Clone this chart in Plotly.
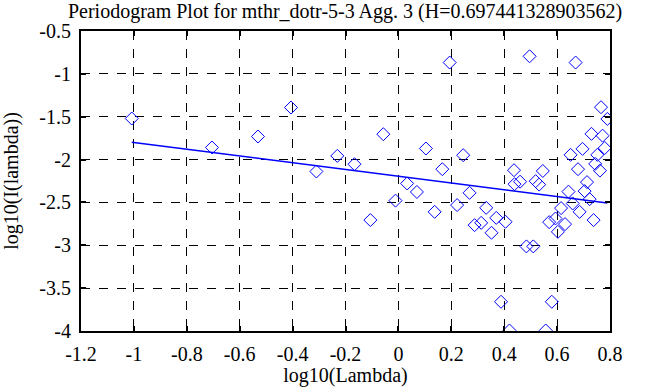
import plotly.graph_objects as go

title_text = "Periodogram Plot for mthr_dotr-5-3 Agg. 3 (H=0.697441328903562)"

log_lambda = [
    -1.008, -0.705, -0.531, -0.406, -0.310, -0.231, -0.166, -0.057, 0.104, 0.194,
    0.166, 0.245, 0.496, 0.670, 0.766, 0.790, 0.730, 0.772, 0.696, 0.651,
    0.780, 0.752, 0.744, 0.679, 0.762, 0.437, 0.546, 0.033, 0.070, -0.011,
    -0.106, 0.137, 0.222, 0.269, 0.332, 0.370, 0.288, 0.313, 0.352, 0.405,
    0.439, 0.460, 0.519, 0.532, 0.484, 0.510, 0.388, 0.580, 0.420, 0.557,
    0.643, 0.713, 0.704, 0.723, 0.615, 0.659, 0.685, 0.570, 0.594, 0.630,
    0.603, 0.738,
]
log_I = [
    -1.521, -1.859, -1.731, -1.393, -2.139, -1.957, -2.054, -1.704, -1.871, -0.868,
    -2.112, -1.949, -0.795, -0.868, -1.389, -1.526, -1.700, -1.721, -1.875, -1.945,
    -1.865, -1.945, -2.050, -2.112, -2.129, -2.124, -2.133, -2.279, -2.378, -2.479,
    -2.706, -2.610, -2.531, -2.388, -2.563, -2.680, -2.765, -2.738, -2.854, -2.726,
    -2.287, -2.258, -2.252, -2.292, -3.013, -3.013, -3.659, -3.659, -3.994, -3.994,
    -2.374, -2.263, -2.368, -2.462, -2.566, -2.512, -2.610, -2.730, -2.687, -2.753,
    -2.843, -2.706,
]

fit_x = [-1.008, 0.790]
fit_y = [-1.797, -2.507]

x_ticks = [-1.2, -1.0, -0.8, -0.6, -0.4, -0.2, 0.0, 0.2, 0.4, 0.6, 0.8]
x_tick_labels = ["-1.2", "-1", "-0.8", "-0.6", "-0.4", "-0.2", "0", "0.2", "0.4", "0.6", "0.8"]
y_ticks = [-4.0, -3.5, -3.0, -2.5, -2.0, -1.5, -1.0, -0.5]
y_tick_labels = ["-4", "-3.5", "-3", "-2.5", "-2", "-1.5", "-1", "-0.5"]

FONT = "'Liberation Serif', 'Times New Roman', Times, serif"
FS = 20

fig = go.Figure()
fig.add_trace(go.Scatter(
    x=log_lambda, y=log_I, mode="markers",
    marker=dict(symbol="diamond-open", size=10, color="#0000ff", line=dict(width=1, color="#0000ff")),
    showlegend=False, hoverinfo="x+y",
))
fig.add_trace(go.Scatter(
    x=fit_x, y=fit_y, mode="lines",
    line=dict(color="#0000ff", width=1.5),
    showlegend=False,
))

axis_common = dict(
    showline=True, linecolor="black", linewidth=2, mirror="ticks",
    ticks="inside", ticklen=5, tickwidth=2, tickcolor="black",
    showgrid=True, gridcolor="black", gridwidth=1, griddash="dash",
    zeroline=False, automargin=False,
    tickfont=dict(family=FONT, size=FS, color="black"),
)

fig.update_layout(
    width=668, height=387,
    margin=dict(l=81, r=58, t=31, b=56),
    paper_bgcolor="white", plot_bgcolor="white",
    font=dict(family=FONT, color="black"),
    title=dict(text=title_text, x=0.5165, xanchor="center", xref="container",
               y=1 - 11 / 387, yanchor="middle", yref="container",
               font=dict(family=FONT, size=FS, color="black")),
    xaxis=dict(range=[-1.2, 0.8], tickvals=x_ticks, ticktext=x_tick_labels,
               ticklabelstandoff=4,
               title=dict(text="log10(Lambda)", font=dict(family=FONT, size=FS, color="black"), standoff=0),
               **axis_common),
    yaxis=dict(range=[-4, -0.5], tickvals=y_ticks, ticktext=y_tick_labels,
               ticklabelstandoff=4,
               title=dict(text="log10(I(lambda))", font=dict(family=FONT, size=FS, color="black"), standoff=16),
               **axis_common),
)

fig.write_html("out.html", config={"displayModeBar": False},
               post_script="document.body.style.margin='0px';")
